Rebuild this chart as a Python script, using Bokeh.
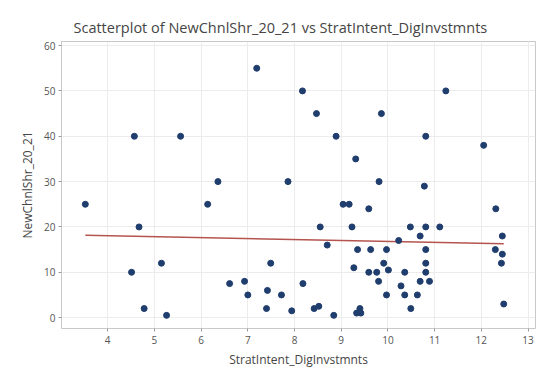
import numpy as np
from bokeh.plotting import figure
from bokeh.models import Range1d, FixedTicker
from bokeh.embed import file_html
from bokeh.resources import INLINE

# Data
strat_intent = [3.52, 4.57, 4.51, 4.67, 4.78, 5.15, 5.26, 5.56, 6.14, 6.36, 6.61, 6.93, 7.0, 7.19,
                7.40, 7.42, 7.49, 7.72, 7.86, 7.94, 8.17, 8.18, 8.47, 8.42, 8.52, 8.55, 8.70, 8.84,
                8.89, 9.04, 9.17, 9.23, 9.27, 9.31, 9.35, 9.33, 9.40, 9.42, 9.59, 9.59, 9.63, 9.76,
                9.80, 9.81, 9.86, 9.91, 9.97, 9.97, 10.01, 10.23, 10.28, 10.36, 10.36, 10.48, 10.49,
                10.63, 10.69, 10.69, 10.78, 10.81, 10.81, 10.81, 10.81, 10.81, 10.89, 11.11, 11.24,
                12.05, 12.31, 12.30, 12.45, 12.45, 12.43, 12.48]
new_chnl_shr = [25, 40, 10, 20, 2, 12, 0.5, 40, 25, 30, 7.5, 8, 5, 55,
                2, 6, 12, 5, 30, 1.5, 50, 7.5, 45, 2, 2.5, 20, 16, 0.5,
                40, 25, 25, 20, 11, 35, 15, 1, 2, 1, 24, 10, 15, 10,
                8, 30, 45, 12, 15, 5, 10.5, 17, 7, 10, 5, 20, 2,
                5, 18, 8, 29, 40, 20, 15, 12, 10, 8, 20, 50,
                38, 24, 15, 18, 14, 12, 3]
x_ticks = [4, 5, 6, 7, 8, 9, 10, 11, 12, 13]
y_ticks = [0, 10, 20, 30, 40, 50, 60]

title_text = "Scatterplot of NewChnlShr_20_21 vs StratIntent_DigInvstmnts"
x_label = "StratIntent_DigInvstmnts"
y_label = "NewChnlShr_20_21"

FONT = "Open Sans"

p = figure(width=553, height=374, output_backend="svg", toolbar_location=None,
           x_range=Range1d(3.01, 13.16), y_range=Range1d(-2.4, 60.9),
           min_border_left=61, min_border_right=18, min_border_top=41, min_border_bottom=46)

p.title.text = title_text
p.title.align = "left"
p.title.offset = 12
p.title.text_font = FONT
p.title.text_font_size = "14.5px"
p.title.text_font_style = "normal"
p.title.text_color = "#454545"

p.background_fill_color = "white"
p.border_fill_color = "white"
p.outline_line_color = "#c8c8c8"
p.outline_line_width = 1

p.xaxis.ticker = FixedTicker(ticks=x_ticks)
p.yaxis.ticker = FixedTicker(ticks=y_ticks)
p.xgrid.ticker = FixedTicker(ticks=x_ticks)
p.ygrid.ticker = FixedTicker(ticks=y_ticks)
p.xgrid.grid_line_color = "#ececec"
p.ygrid.grid_line_color = "#ececec"

for ax in (p.xaxis[0], p.yaxis[0]):
    ax.axis_line_color = None
    ax.major_tick_line_color = "#9a9a9a"
    ax.major_tick_out = 3
    ax.major_tick_in = 0
    ax.minor_tick_line_color = None
    ax.major_label_text_font = FONT
    ax.major_label_text_font_size = "10px"
    ax.major_label_text_color = "#555555"
    ax.axis_label_text_font = FONT
    ax.axis_label_text_font_size = "12px"
    ax.axis_label_text_font_style = "normal"
    ax.axis_label_text_color = "#454545"

p.xaxis.axis_label = x_label
p.yaxis.axis_label = y_label
p.xaxis.major_label_standoff = 4
p.yaxis.major_label_standoff = 3
p.xaxis.axis_label_standoff = 4
p.yaxis.axis_label_standoff = 5

# regression fit line
xs = np.array(strat_intent)
ys = np.array(new_chnl_shr)
slope, intercept = np.polyfit(xs, ys, 1)
lx = np.array([xs.min(), xs.max()])
p.line(lx, intercept + slope * lx, line_color="#b5544e", line_width=1.5)

p.scatter(strat_intent, new_chnl_shr, size=6, fill_color="#1f3d6d", line_color="#1f3d6d")

open("out.html", "w").write(file_html(p, INLINE))
